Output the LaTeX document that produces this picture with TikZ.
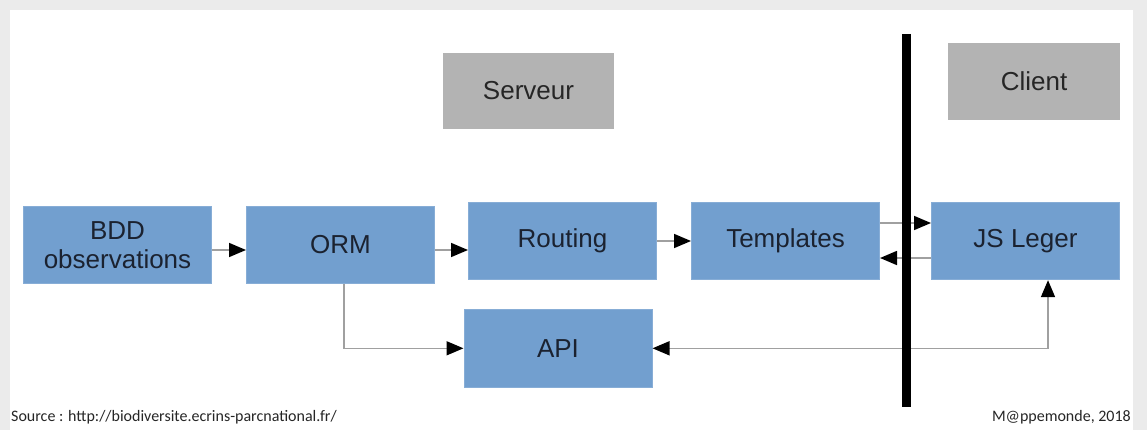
\documentclass[tikz,border=0pt]{standalone}
\usepackage{fontspec}
\setmainfont{Liberation Sans}
\newfontfamily\footfont{Carlito}
\usetikzlibrary{arrows.meta, positioning}
\definecolor{boxblue}{HTML}{729FCF}
\definecolor{boxgray}{HTML}{B3B3B3}
\definecolor{pagegray}{HTML}{EBEBEB}
\definecolor{linkgray}{HTML}{A0A0A0}
\definecolor{inkdark}{HTML}{1B2230}
\tikzset{
    blockbox/.style={rectangle, fill=boxblue, draw=boxblue!85!white, line width=0.8pt, minimum width=188.2pt, minimum height=77.5pt, inner sep=0pt, align=center, text=inkdark, font=\fontsize{26}{29}\selectfont},
    titlebox/.style={rectangle, fill=boxgray, minimum width=171pt, minimum height=76pt, inner sep=0pt, text=black!85, font=\fontsize{26}{29}\selectfont},
    conn/.style={draw=linkgray, line width=1.6pt, >={Triangle[length=17pt, width=14pt, color=black, fill=black]}},
    footer/.style={inner sep=0pt, text=black!85, font=\footfont\fontsize{16}{19}\selectfont},
}
\begin{document}
\begin{tikzpicture}[x=1pt, y=-1pt]
    \tikzset{node distance=34pt}
    \useasboundingbox (0,0) rectangle (1147,441);
    \fill[pagegray] (0,0) rectangle (1147,430);
    \fill[white] (10,10) rectangle (1133,441);

    \node[blockbox] (bdd) at (117.5,245) {BDD\\observations};
    \node[blockbox, right=of bdd] (orm) {ORM};
    \node[blockbox, right=33pt of orm, yshift=4pt] (routing) {Routing};
    \node[blockbox, right=of routing] (templates) {Templates};
    \node[blockbox, right=51pt of templates] (js) {JS Leger};
    \node[blockbox, below=29pt of routing, xshift=-4.5pt] (api) {API};

    \node[titlebox] (serveur) at (528.5,91) {Serveur};
    \node[titlebox, minimum width=172pt, minimum height=77pt] (client) at (1034,81.5) {Client};

    \coordinate (divtop) at (906.5,34);
    \coordinate (divbot) at (906.5,407);

    \draw[conn, ->] ([yshift=-5pt]bdd.east) -- ([yshift=-5pt]orm.west);
    \draw[conn, ->] ([yshift=-5pt]orm.east) -- ([yshift=-5pt]orm.east -| routing.west);
    \draw[conn, ->] (routing) -- (templates);
    \draw[conn, ->] ([yshift=18pt]templates.east) -- ([yshift=18pt]templates.east -| js.west);
    \draw[conn, ->] ([yshift=-17pt]js.west) -- ([yshift=-17pt]js.west -| templates.east);
    \draw[conn, ->] ([xshift=3.5pt]orm.south) |- (api.west);
    \draw[conn, <->] (api.east) -| ([xshift=22.5pt]js.south);

    \draw[line width=9pt] (divtop) -- (divbot);

    \node[footer, anchor=west] (source) at (11,417) {Source : http://biodiversite.ecrins-parcnational.fr/};
    \node[footer, anchor=east] (credit) at (1131,417) {M@ppemonde, 2018};
\end{tikzpicture}
\end{document}
